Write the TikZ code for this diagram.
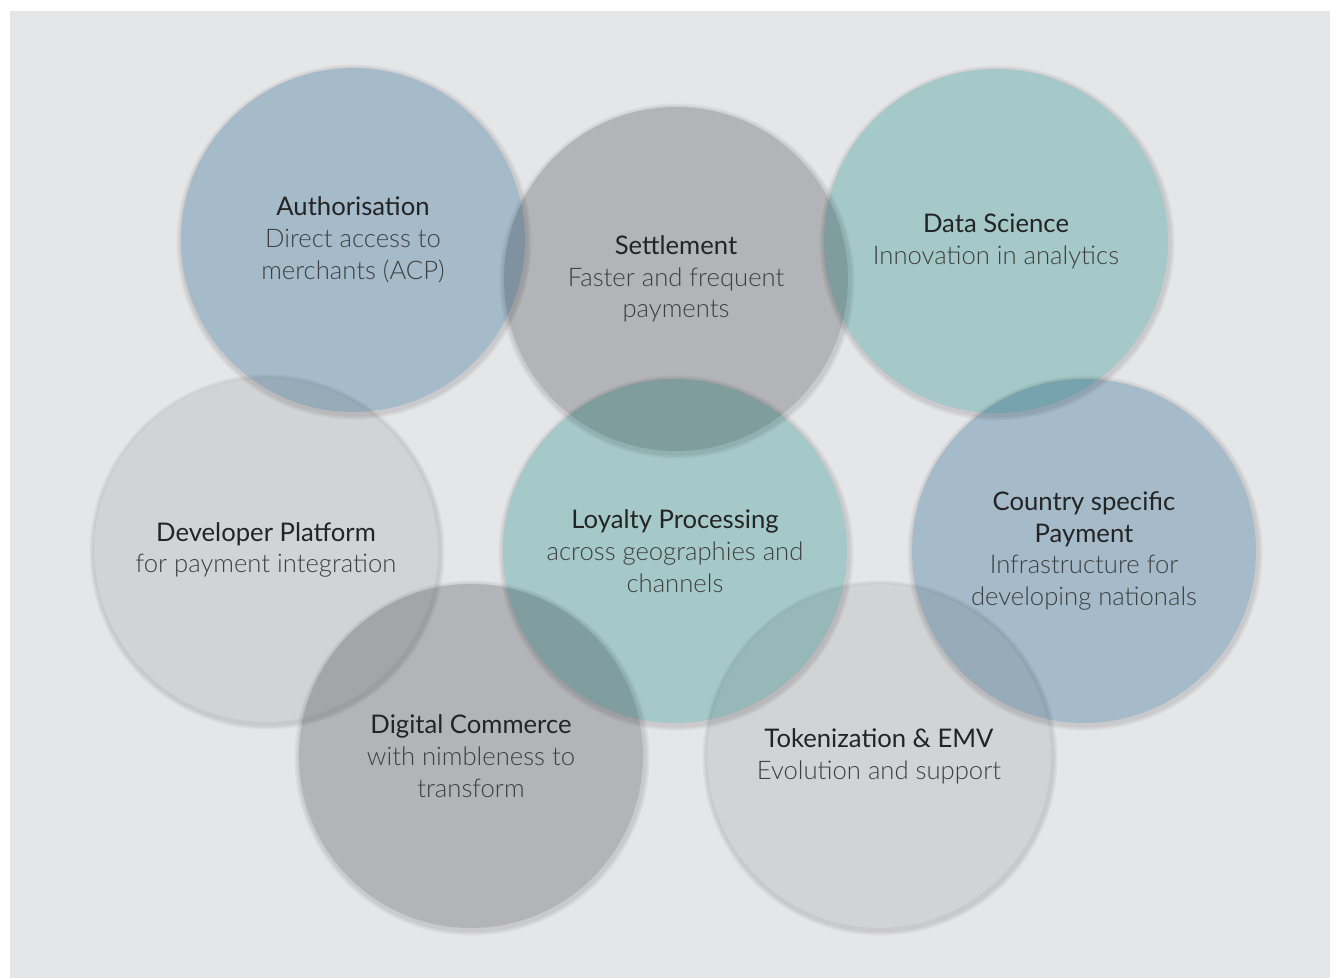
\documentclass[tikz,border=0pt]{standalone}
\usepackage{fontspec}
\setmainfont{Lato}
\newfontfamily\lightfont{Lato Light}
\usetikzlibrary{positioning,backgrounds}
\definecolor{paper}{RGB}{229,230,232}
\definecolor{discblue}{RGB}{184,208,223}
\definecolor{discgray}{RGB}{199,200,202}
\definecolor{discteal}{RGB}{184,223,221}
\definecolor{disclight}{RGB}{234,234,234}
\definecolor{headtext}{RGB}{36,36,36}
\definecolor{subtext}{RGB}{62,62,62}
\newcommand\subline[1]{{\lightfont\color{subtext}#1}}

\begin{document}
\begin{tikzpicture}[x=0.02cm,y=-0.02cm,
    disc/.style={circle,minimum size=6.88cm,inner sep=0pt,fill=#1},
    halo/.style={fill=black,opacity=0.04,even odd rule},
    caption/.style={align=center,text=headtext,
      font=\fontsize{14.6}{18.1}\selectfont}]
  \useasboundingbox (0,0) rectangle (1330,978);

  \begin{scope}[blend mode=multiply]
    \node[disc=discblue]  (auth)    at (353,240)  {};
    \node[disc=discgray]  (settle)  at (676,279)  {};
    \node[disc=discteal]  (data)    at (996,241)  {};
    \node[disc=disclight] (dev)     at (266,550)  {};
    \node[disc=discteal]  (loyalty) at (675,551)  {};
    \node[disc=discblue]  (country) at (1084,551) {};
    \node[disc=discgray]  (digital) at (471,756)  {};
    \node[disc=disclight] (token)   at (879,756)  {};
  \end{scope}

  \begin{scope}[on background layer]
    \fill[white] (0,0) rectangle (1330,978);
    \fill[paper] (10,11) rectangle (1330,978);
    \foreach \n in {auth,settle,data,dev,loyalty,country,digital,token}
      \foreach \r in {174.5,176,177.5}
        \fill[halo] ([shift={(1,2)}]\n.center) circle (\r)
          (\n.center) circle (172);
  \end{scope}

  \node[caption] (auth-t) at (auth) {Authorisation\\
    \subline{Direct access to}\\\subline{merchants (ACP)}};
  \node[caption] (settle-t) at (settle) {Settlement\\
    \subline{Faster and frequent}\\\subline{payments}};
  \node[caption] (data-t) at (data) {Data Science\\
    \subline{Innovation in analytics}};
  \node[caption] (dev-t) at (dev) {Developer Platform\\
    \subline{for payment integration}};
  \node[caption] (loyalty-t) at (loyalty) {Loyalty Processing\\
    \subline{across geographies and}\\\subline{channels}};
  \node[caption] (country-t) at (country) {Country specific\\Payment\\
    \subline{Infrastructure for}\\\subline{developing nationals}};
  \node[caption] (digital-t) at (digital) {Digital Commerce\\
    \subline{with nimbleness to}\\\subline{transform}};
  \node[caption] (token-t) at (token) {Tokenization \& EMV\\
    \subline{Evolution and support}};
\end{tikzpicture}
\end{document}
